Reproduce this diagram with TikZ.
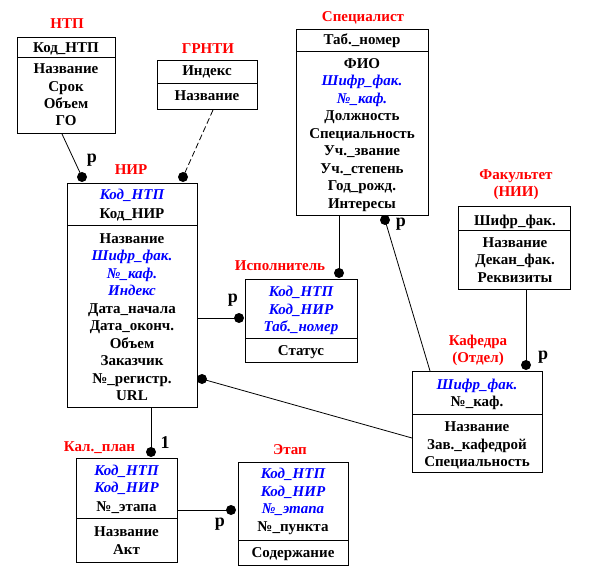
\documentclass[tikz,border=0pt]{standalone}
\usepackage{fontspec}
\setmainfont{Liberation Serif}
\definecolor{keyblue}{RGB}{0,0,255}
\definecolor{lblred}{RGB}{255,0,0}
\newcommand\K[1]{\textcolor{keyblue}{\itshape #1}}
\tikzset{
  x=1pt, y=-1pt,
  box/.style={draw, line width=1pt, anchor=north west, inner sep=0pt},
  rt/.style={anchor=base, inner sep=0pt, font=\fontsize{15}{17}\selectfont\bfseries},
  lbl/.style={anchor=base, inner sep=0pt, text=lblred, font=\fontsize{15}{17}\selectfont\bfseries},
  card/.style={anchor=base, inner sep=0pt, font=\fontsize{18}{18}\selectfont\bfseries},
  dot/.style={circle, fill=black, inner sep=0pt, minimum size=10pt},
  conn/.style={line width=0.8pt},
}
\begin{document}
\begin{tikzpicture}
\useasboundingbox (0,0) rectangle (589,580);
\fill[white] (0,0) rectangle (589,580);

% ---------- boxes ----------
\node[box, minimum width=98pt, minimum height=96pt] (ntp) at (17,37) {};
\draw[line width=1pt] (ntp.west |- 0,58) -- (ntp.east |- 0,58);
\node[box, minimum width=100pt, minimum height=49pt] (grnti) at (157,60) {};
\draw[line width=1pt] (grnti.west |- 0,84) -- (grnti.east |- 0,84);
\node[box, minimum width=132pt, minimum height=186pt] (spec) at (296,29) {};
\draw[line width=1pt] (spec.west |- 0,52) -- (spec.east |- 0,52);
\node[box, minimum width=130pt, minimum height=224pt] (nir) at (67,183) {};
\draw[line width=1pt] (nir.west |- 0,226) -- (nir.east |- 0,226);
\node[box, minimum width=112pt, minimum height=83pt] (isp) at (245,279) {};
\draw[line width=1pt] (isp.west |- 0,338) -- (isp.east |- 0,338);
\node[box, minimum width=112pt, minimum height=83pt] (fak) at (458,206) {};
\draw[line width=1pt] (fak.west |- 0,231) -- (fak.east |- 0,231);
\node[box, minimum width=130pt, minimum height=101pt] (kaf) at (412,371) {};
\draw[line width=1pt] (kaf.west |- 0,414) -- (kaf.east |- 0,414);
\node[box, minimum width=101pt, minimum height=104pt] (kal) at (76,458) {};
\draw[line width=1pt] (kal.west |- 0,518) -- (kal.east |- 0,518);
\node[box, minimum width=110pt, minimum height=103pt] (etap) at (238,462) {};
\draw[line width=1pt] (etap.west |- 0,540) -- (etap.east |- 0,540);

% ---------- titles ----------
\node[lbl] (t-ntp) at (67,29) {НТП};
\node[lbl] (t-grnti) at (208,54) {ГРНТИ};
\node[lbl] (t-nir) at (131,175) {НИР};
\node[lbl] (t-spec) at (363,21.5) {Специалист};
\node[lbl] (t-fak1) at (516,180) {Факультет};
\node[lbl] (t-fak2) at (516,197) {(НИИ)};
\node[lbl] (t-isp) at (280,270.5) {Исполнитель};
\node[lbl] (t-kaf1) at (478,345.5) {Кафедра};
\node[lbl] (t-kaf2) at (478,362) {(Отдел)};
\node[lbl] (t-kal) at (99.5,451.5) {Кал.\_план};
\node[lbl] (t-etap) at (290,454) {Этап};

% ---------- rows ----------
\foreach \yy/\tx [count=\i] in {52.3/Код\_НТП,74/Название,91.7/Срок,109/Объем,126/ГО}
  \node[rt] (ntp-\i) at (66,\yy) {\tx};
\foreach \yy/\tx [count=\i] in {76/Индекс,101/Название}
  \node[rt] (grnti-\i) at (207,\yy) {\tx};
\foreach \yy/\tx [count=\i] in {45/Таб.\_номер,68.3/ФИО,85.7/\K{Шифр\_фак.},103.3/\K{№\_каф.},120.8/Должность,138.3/Специальность,155.8/Уч.\_звание,173.3/Уч.\_степень,190.8/Год\_рожд.,208.3/Интересы}
  \node[rt] (spec-\i) at (362,\yy) {\tx};
\foreach \yy/\tx [count=\i] in {200/\K{Код\_НТП},219/Код\_НИР,243.3/Название,260.8/\K{Шифр\_фак.},278.3/\K{№\_каф.},295.8/\K{Индекс},313.3/Дата\_начала,330.8/Дата\_оконч.,348.3/Объем,365.8/Заказчик,383.3/№\_регистр.,400.8/URL}
  \node[rt] (nir-\i) at (132,\yy) {\tx};
\foreach \yy/\tx [count=\i] in {296.5/\K{Код\_НТП},314/\K{Код\_НИР},331.5/\K{Таб.\_номер},355/Статус}
  \node[rt] (isp-\i) at (301,\yy) {\tx};
\foreach \yy/\tx [count=\i] in {225.7/Шифр\_фак.,247.3/Название,264.7/Декан\_фак.,282.2/Реквизиты}
  \node[rt] (fak-\i) at (515,\yy) {\tx};
\foreach \yy/\tx [count=\i] in {389/\K{Шифр\_фак.},406.7/№\_каф.,431.7/Название,449.2/Зав.\_кафедрой,466.7/Специальность}
  \node[rt] (kaf-\i) at (477,\yy) {\tx};
\foreach \yy/\tx [count=\i] in {475/\K{Код\_НТП},492.5/\K{Код\_НИР},511/№\_этапа,536.7/Название,554/Акт}
  \node[rt] (kal-\i) at (126.5,\yy) {\tx};
\foreach \yy/\tx [count=\i] in {478.3/\K{Код\_НТП},496/\K{Код\_НИР},513.3/\K{№\_этапа},531/№\_пункта,557/Содержание}
  \node[rt] (etap-\i) at (293,\yy) {\tx};

% ---------- dots ----------
\node[dot] (d-nir1) at (82,177) {};
\node[dot] (d-nir2) at (183,177) {};
\node[dot] (d-isp1) at (239,318) {};
\node[dot] (d-isp2) at (339,273) {};
\node[dot] (d-nir3) at (202,379) {};
\node[dot] (d-spec) at (385,220) {};
\node[dot] (d-kaf) at (526,365) {};
\node[dot] (d-kal) at (151,452) {};
\node[dot] (d-etap) at (231,510) {};

% ---------- connectors ----------
\draw[conn] (ntp.south -| 62,0) -- (d-nir1.center);
\draw[conn, dashed, dash pattern=on 6pt off 3pt] (grnti.south -| 213,0) -- (d-nir2.center);
\draw[conn] (nir.east |- 0,318) -- (d-isp1.center);
\draw[conn] (spec.south -| 339,0) -- (d-isp2.center);
\draw[conn] (d-nir3.center) -- (kaf.west |- 0,438);
\draw[conn] (d-spec.center) -- (kaf.north -| 430,0);
\draw[conn] (fak.south -| 526,0) -- (d-kaf.center);
\draw[conn] (nir.south -| 151,0) -- (d-kal.center);
\draw[conn] (kal.east |- 0,510) -- (d-etap.center);

% ---------- cardinalities ----------
\node[card] (c1) at (92,163) {р};
\node[card] (c2) at (233,302) {р};
\node[card] (c3) at (401,227) {р};
\node[card] (c4) at (543,359) {р};
\node[card] (c5) at (165,448) {1};
\node[card] (c6) at (220,526) {р};
\end{tikzpicture}
\end{document}
